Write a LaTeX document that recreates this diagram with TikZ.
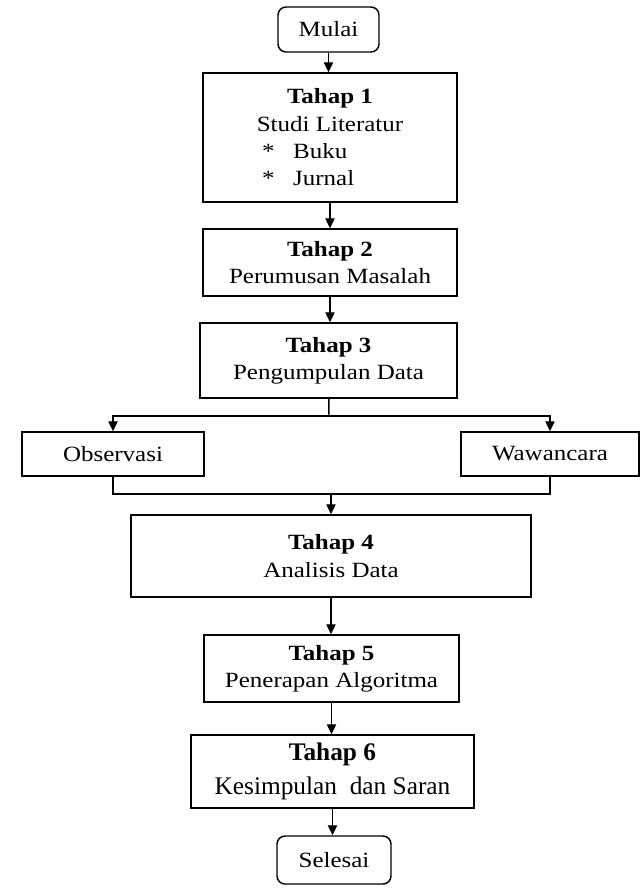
\documentclass[tikz,border=0pt]{standalone}
\usepackage{fontspec}
\setmainfont{Liberation Serif}[FakeStretch=1.15]
\newfontfamily\plainserif{Liberation Serif}
\usetikzlibrary{arrows.meta}

\begin{document}
\begin{tikzpicture}[x=0.75pt, y=-0.75pt,
        font=\fontsize{16.3}{20.5}\selectfont,
        tahap/.style={draw, line width=1.1pt, align=center, inner sep=0pt},
        terminal/.style={tahap, rounded corners=6pt},
        arrow/.style={-{Triangle[length=7.5pt,width=7pt]}, line width=0.9pt}]
        \useasboundingbox (0,0) rectangle (640,890);
        % start
        \node (mulai) [terminal, minimum width=75.75pt, minimum height=33.75pt] at (328.5,29.5) {Mulai};
        % stages
        \node (tahap1) [tahap, minimum width=190.5pt, minimum height=96.75pt] at (330,137.5)
            {\textbf{Tahap 1}\\Studi Literatur\\\makebox[102pt][l]{*\hspace{14pt}Buku}\\\makebox[102pt][l]{*\hspace{14pt}Jurnal}};
        \node (tahap2) [tahap, minimum width=190.5pt, minimum height=50.25pt] at (330,262.5) {\textbf{Tahap 2}\\Perumusan Masalah};
        \node (tahap3) [tahap, minimum width=192.75pt, minimum height=56.25pt] at (328.5,360.5) {\textbf{Tahap 3}\\Pengumpulan Data};
        \node (obs) [tahap, minimum width=136.5pt, minimum height=33pt] at (113,454) {Observasi};
        \node (waw) [tahap, minimum width=133.5pt, minimum height=33pt] at (550,454) {Wawancara};
        \node (tahap4) [tahap, minimum width=300pt, minimum height=61.5pt] at (331,556) {\textbf{Tahap 4}\\Analisis Data};
        \node (tahap5) [tahap, minimum width=191.25pt, minimum height=50.25pt] at (331.5,668.5) {\textbf{Tahap 5}\\Penerapan Algoritma};
        \node (tahap6) [tahap, minimum width=212.25pt, minimum height=54.75pt, font=\plainserif\fontsize{19}{25}\selectfont] at (332.5,771.5)
            {\textbf{Tahap 6}\\Kesimpulan\ \ dan Saran};
        % end
        \node (selesai) [terminal, minimum width=85.5pt, minimum height=36pt] at (334,860) {Selesai};
        % connectors
        \coordinate (split) at (329,416);
        \coordinate (merge) at (331,494);
        \draw [arrow] (mulai) -- (mulai |- tahap1.north);
        \draw [arrow] (tahap1) -- (tahap1 |- tahap2.north);
        \draw [arrow] (tahap2) -- (tahap2 |- tahap3.north);
        \draw [line width=1.1pt] (tahap3) -- (split);
        \draw [arrow] (split) -| (obs);
        \draw [arrow] (split) -| (waw);
        \draw [line width=0.9pt] (obs) |- (merge) -| (waw);
        \draw [arrow] (merge) -- (merge |- tahap4.north);
        \draw [arrow] (tahap4) -- (tahap4 |- tahap5.north);
        \draw [arrow] (tahap5) -- (tahap5 |- tahap6.north);
        \draw [arrow] (tahap6) -- (tahap6 |- selesai.north);
    \end{tikzpicture}
\end{document}
